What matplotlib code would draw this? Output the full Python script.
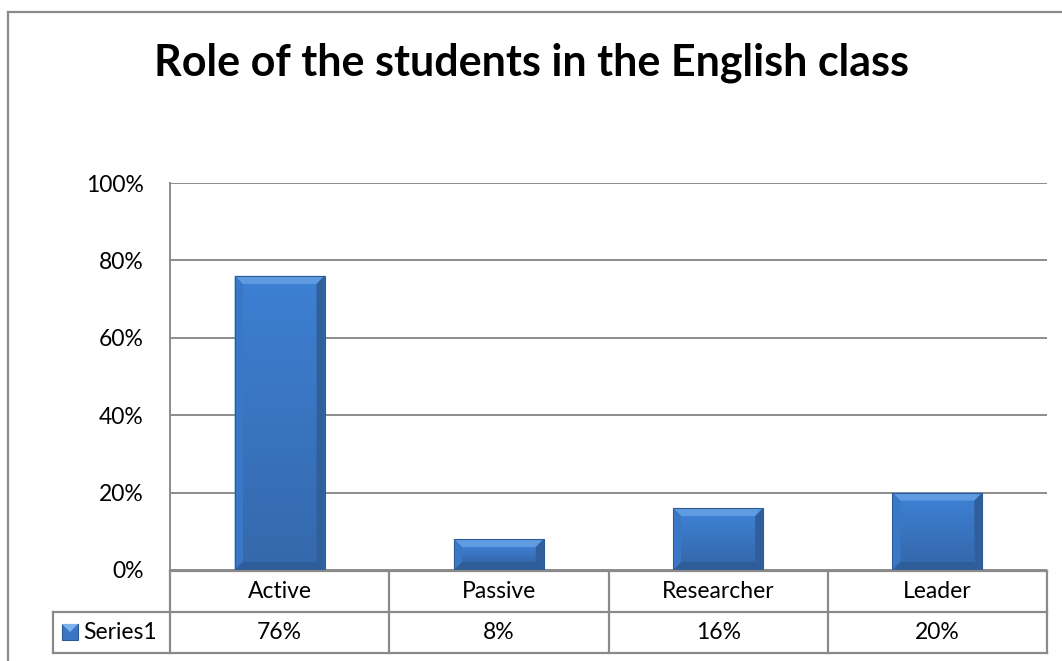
import matplotlib
matplotlib.use("Agg")
import matplotlib.pyplot as plt
from matplotlib.patches import Rectangle, Polygon
from matplotlib.lines import Line2D
import numpy as np

plt.rcParams['font.family'] = ['Lato', 'DejaVu Sans']

categories = ['Active', 'Passive', 'Researcher', 'Leader']
values = [76, 8, 16, 20]
series_name = 'Series1'
yticks = [0, 20, 40, 60, 80, 100]
title = 'Role of the students in the English class'

W, H = 1062, 661
fig = plt.figure(figsize=(W / 100, H / 100), dpi=100)
fs = 16.5

# plot area in pixel terms
L, R, T, B = 170, 1047, 183, 570
ax = fig.add_axes([L / W, 1 - B / H, (R - L) / W, (B - T) / H])
ax.set_xlim(-0.5, len(categories) - 0.5)
ax.set_ylim(0, 100)

grid_c = '#8c8c8c'
for y in yticks:
    ax.axhline(y, color=grid_c, lw=1.4, zorder=1)
for s in ['top', 'right', 'bottom']:
    ax.spines[s].set_visible(False)
ax.spines['left'].set_color(grid_c)
ax.spines['left'].set_linewidth(1.4)
ax.set_yticks(yticks)
ax.set_yticklabels([f'{y}%' for y in yticks], fontsize=fs)
ax.tick_params(axis='y', length=0, pad=19)
ax.set_xticks([])

# bevelled bars
bw = 0.41
px_x = (len(categories)) / (R - L)
px_y = 100 / (B - T)
bx, by = 8 * px_x, 8 * px_y


def bevel_bar(ax, xc, h):
    x0, x1 = xc - bw / 2, xc + bw / 2
    bev_y = min(by, h / 3)
    ax.add_patch(Rectangle((x0, 0), bw, h, fc='#3a76c4', ec='none', zorder=3))
    # subtle vertical gradient on the face
    grad = np.linspace(0, 1, 64).reshape(-1, 1)
    cmap = matplotlib.colors.LinearSegmentedColormap.from_list('f', ['#3569ad', '#3d7fd2'])
    ax.imshow(grad, extent=(x0 + bx, x1 - bx, bev_y, h - bev_y), origin='lower',
              cmap=cmap, aspect='auto', zorder=4)
    # bevel edges
    ax.add_patch(Polygon([(x0, h), (x1, h), (x1 - bx, h - bev_y), (x0 + bx, h - bev_y)],
                         fc='#5e9be0', ec='none', zorder=5))
    ax.add_patch(Polygon([(x0, 0), (x0, h), (x0 + bx, h - bev_y), (x0 + bx, bev_y)],
                         fc='#3a78c6', ec='none', zorder=5))
    ax.add_patch(Polygon([(x1, 0), (x1, h), (x1 - bx, h - bev_y), (x1 - bx, bev_y)],
                         fc='#305f9c', ec='none', zorder=5))
    ax.add_patch(Polygon([(x0, 0), (x1, 0), (x1 - bx, bev_y), (x0 + bx, bev_y)],
                         fc='#2e5d99', ec='none', zorder=5))
    ax.add_patch(Rectangle((x0, 0), bw, h, fc='none', ec='#2f5b94', lw=0.8, zorder=6))


for i, v in enumerate(values):
    bevel_bar(ax, i, v)

# data table under the plot, drawn in figure pixels
def fx(x):
    return x / W


def fy(y):
    return 1 - y / H


row_top, row_mid, row_bot = 571, 612, 653
lab_left = 53
col_edges = [L + (R - L) * k / len(categories) for k in range(len(categories) + 1)]
tc = '#8a8a8a'
tlw = 1.6
lines = [
    ((L, R), (row_top, row_top)),
    ((lab_left, R), (row_mid, row_mid)),
    ((lab_left, R), (row_bot, row_bot)),
    ((lab_left, lab_left), (row_mid, row_bot)),
]
for xe in col_edges:
    lines.append(((xe, xe), (row_top, row_bot)))
for xs, ys in lines:
    fig.add_artist(Line2D([fx(xs[0]), fx(xs[1])], [fy(ys[0]), fy(ys[1])],
                          color=tc, lw=tlw))

for k, (cat, v) in enumerate(zip(categories, values)):
    xc = (col_edges[k] + col_edges[k + 1]) / 2
    fig.text(fx(xc), fy((row_top + row_mid) / 2), cat, ha='center', va='center', fontsize=fs)
    fig.text(fx(xc), fy((row_mid + row_bot) / 2), f'{v}%', ha='center', va='center', fontsize=fs)

# legend key in the table
key = Rectangle((fx(62), fy(640)), fx(16), 16 / H, transform=fig.transFigure,
                fc='#3a76c4', ec='#2f5b94', lw=0.8)
fig.add_artist(key)
fig.add_artist(Polygon([(fx(62), fy(624)), (fx(78), fy(624)), (fx(70), fy(632))],
                       closed=True, transform=fig.transFigure, fc='#7db4f0', ec='none'))
fig.text(fx(83), fy((row_mid + row_bot) / 2), series_name, ha='left', va='center', fontsize=fs)

# chart frame
fig.add_artist(Line2D([fx(8), fx(8)], [fy(H), fy(12)], color=tc, lw=1.6))
fig.add_artist(Line2D([fx(8), fx(W)], [fy(12), fy(12)], color=tc, lw=1.6))

fig.text(fx(531), fy(63), title, ha='center', va='center', fontsize=31, fontweight='bold')

fig.savefig('out.png', dpi=100)
